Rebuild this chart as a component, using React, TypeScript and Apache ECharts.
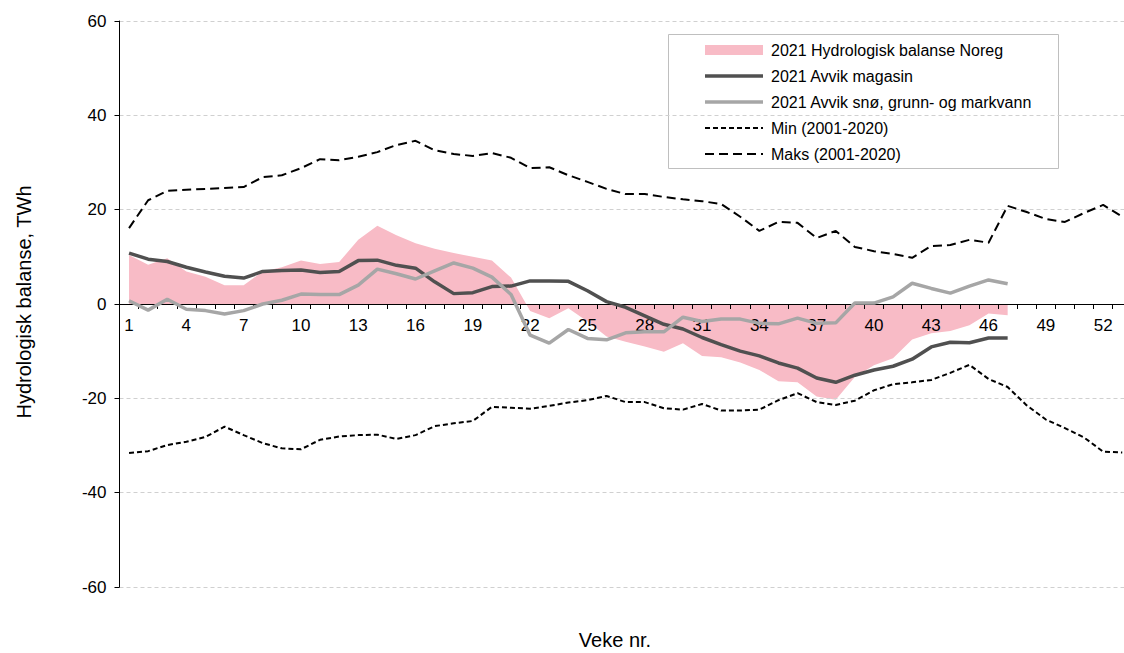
import React, { useEffect, useRef } from "react";
import * as echarts from "echarts";

const weeks = [
  "1", "2", "3", "4", "5", "6", "7", "8", "9", "10",
  "11", "12", "13", "14", "15", "16", "17", "18", "19", "20",
  "21", "22", "23", "24", "25", "26", "27", "28", "29", "30",
  "31", "32", "33", "34", "35", "36", "37", "38", "39", "40",
  "41", "42", "43", "44", "45", "46", "47", "48", "49", "50",
  "51", "52", "53",
];

const yTicks = [-60, -40, -20, 0, 20, 40, 60];

const hydroBalance = [
  10.4, 8.3, 9.7, 6.9, 5.8, 4.0, 4.0, 6.9, 7.8, 9.2,
  8.5, 8.9, 13.6, 16.6, 14.6, 12.9, 11.7, 10.8, 10.0, 9.2,
  5.6, -1.5, -3.0, -0.9, -3.7, -6.9, -8.0, -9.0, -10.1, -8.3,
  -11.0, -11.3, -12.4, -14.0, -16.4, -16.6, -19.6, -20.3, -15.5, -13.0,
  -11.5, -7.5, -6.2, -5.7, -4.5, -2.0, -2.4,
];

const avvikMagasin = [
  10.8, 9.5, 9.0, 7.8, 6.8, 5.9, 5.5, 6.9, 7.1, 7.2,
  6.7, 6.9, 9.2, 9.3, 8.2, 7.6, 4.7, 2.2, 2.4, 3.7,
  3.8, 4.9, 4.9, 4.8, 2.8, 0.5, -0.7, -2.5, -4.3, -5.3,
  -7.1, -8.6, -10.0, -11.0, -12.5, -13.6, -15.7, -16.6, -15.1, -14.0,
  -13.2, -11.7, -9.1, -8.1, -8.2, -7.2, -7.2,
];

const avvikSno = [
  0.7, -1.3, 1.0, -1.1, -1.4, -2.1, -1.4, 0.0, 0.8, 2.1,
  2.0, 2.0, 4.0, 7.4, 6.4, 5.3, 7.0, 8.7, 7.6, 5.7,
  2.0, -6.6, -8.3, -5.4, -7.3, -7.6, -6.1, -5.9, -5.9, -2.8,
  -3.7, -3.2, -3.2, -4.1, -4.2, -3.0, -4.1, -4.0, 0.2, 0.2,
  1.5, 4.4, 3.3, 2.3, 3.8, 5.1, 4.3,
];

const minValues = [
  -31.6, -31.2, -29.9, -29.2, -28.2, -26.0, -27.8, -29.5, -30.6, -30.8,
  -28.8, -28.1, -27.8, -27.7, -28.6, -27.8, -25.9, -25.3, -24.8, -21.8,
  -22.0, -22.2, -21.6, -20.9, -20.4, -19.5, -20.8, -20.8, -22.1, -22.4,
  -21.2, -22.6, -22.6, -22.4, -20.4, -18.9, -20.8, -21.4, -20.5, -18.3,
  -17.0, -16.6, -16.1, -14.6, -12.9, -15.9, -17.6, -21.5, -24.5, -26.3,
  -28.3, -31.3, -31.5,
];

const maxValues = [
  16.1, 22.0, 24.0, 24.2, 24.4, 24.6, 24.8, 26.9, 27.3, 28.8,
  30.7, 30.5, 31.2, 32.2, 33.7, 34.6, 32.6, 31.8, 31.4, 32.0,
  31.0, 28.8, 29.0, 27.3, 25.9, 24.4, 23.3, 23.3, 22.7, 22.2,
  21.8, 21.2, 18.5, 15.5, 17.4, 17.2, 14.0, 15.5, 12.1, 11.2,
  10.6, 9.8, 12.3, 12.5, 13.6, 13.0, 20.8, 19.5, 18.0, 17.4,
  19.3, 21.0, 18.5,
];

const seriesNames = [
  "2021 Hydrologisk balanse Noreg",
  "2021 Avvik magasin",
  "2021 Avvik snø, grunn- og markvann",
  "Min (2001-2020)",
  "Maks (2001-2020)",
];

const yTitle = "Hydrologisk balanse, TWh";
const xTitle = "Veke nr.";

const FONT = "'Liberation Sans', Arial, sans-serif";
const PINK = "#F8BBC6";
const DARK = "#505050";
const LIGHT = "#A6A6A6";
const MIN_DASH = [5, 3];
const MAX_DASH = [9, 5];

export default function App() {
  const ref = useRef<HTMLDivElement>(null);

  useEffect(() => {
    if (!ref.current) return;
    const chart = echarts.init(ref.current, null, { renderer: "svg" });

    const legendX = 668.5;
    const legendY = 34.5;
    const rowY = [50, 76, 102, 128, 154];
    const iconX1 = 705;
    const iconX2 = 763;
    const textX = 771;

    const legendItems: any[] = [
      {
        type: "rect",
        shape: { x: legendX, y: legendY, width: 390, height: 134 },
        style: { fill: "#ffffff", stroke: "#bfbfbf", lineWidth: 1 },
      },
      {
        type: "rect",
        shape: { x: iconX1, y: rowY[0] - 5, width: iconX2 - iconX1, height: 10 },
        style: { fill: PINK },
      },
      {
        type: "line",
        shape: { x1: iconX1, y1: rowY[1], x2: iconX2, y2: rowY[1] },
        style: { stroke: DARK, lineWidth: 3.5 },
      },
      {
        type: "line",
        shape: { x1: iconX1, y1: rowY[2], x2: iconX2, y2: rowY[2] },
        style: { stroke: LIGHT, lineWidth: 3.5 },
      },
      {
        type: "line",
        shape: { x1: iconX1, y1: rowY[3], x2: iconX2, y2: rowY[3] },
        style: { stroke: "#000", lineWidth: 2, lineDash: MIN_DASH },
      },
      {
        type: "line",
        shape: { x1: iconX1, y1: rowY[4], x2: iconX2, y2: rowY[4] },
        style: { stroke: "#000", lineWidth: 2, lineDash: MAX_DASH },
      },
      ...seriesNames.map((name, i) => ({
        type: "text",
        x: textX,
        y: rowY[i],
        style: {
          text: name,
          fontSize: 16,
          fontFamily: FONT,
          fill: "#000",
          align: "left",
          verticalAlign: "middle",
        },
      })),
    ];

    chart.setOption({
      animation: false,
      backgroundColor: "#ffffff",
      grid: {
        left: 119.5,
        top: 21,
        width: 1012.3,
        height: 566,
        containLabel: false,
        outerBoundsMode: "none",
      },
      xAxis: {
        type: "category",
        data: weeks,
        boundaryGap: true,
        position: "bottom",
        offset: -283,
        z: 3,
        axisLine: { onZero: false, lineStyle: { color: "#000", width: 1 } },
        axisTick: { show: true, interval: 0, length: 5, lineStyle: { color: "#000", width: 1 } },
        axisLabel: { interval: 2, fontSize: 17, color: "#000", margin: 13, fontFamily: FONT },
        splitLine: { show: false },
      },
      yAxis: {
        type: "value",
        min: yTicks[0],
        max: yTicks[yTicks.length - 1],
        interval: 20,
        z: 3,
        axisLine: { show: true, lineStyle: { color: "#000", width: 1 } },
        axisTick: { show: true, length: 5, lineStyle: { color: "#000" } },
        axisLabel: { fontSize: 17, color: "#000", margin: 13, fontFamily: FONT },
        splitLine: { show: true, lineStyle: { color: "#d0d0d0", type: [4, 3], width: 1 } },
      },
      series: [
        {
          name: seriesNames[0],
          type: "line",
          data: hydroBalance,
          symbol: "none",
          lineStyle: { width: 0 },
          areaStyle: { color: PINK, opacity: 1 },
          z: 1,
        },
        {
          name: seriesNames[1],
          type: "line",
          data: avvikMagasin,
          symbol: "none",
          lineStyle: { color: DARK, width: 3.5 },
          itemStyle: { color: DARK },
          z: 4,
        },
        {
          name: seriesNames[2],
          type: "line",
          data: avvikSno,
          symbol: "none",
          lineStyle: { color: LIGHT, width: 3.5 },
          itemStyle: { color: LIGHT },
          z: 5,
        },
        {
          name: seriesNames[3],
          type: "line",
          data: minValues,
          symbol: "none",
          lineStyle: { color: "#000", width: 2, type: MIN_DASH },
          itemStyle: { color: "#000" },
          z: 6,
        },
        {
          name: seriesNames[4],
          type: "line",
          data: maxValues,
          symbol: "none",
          lineStyle: { color: "#000", width: 2, type: MAX_DASH },
          itemStyle: { color: "#000" },
          z: 6,
        },
      ],
      graphic: [
        {
          type: "text",
          x: 24,
          y: 302,
          rotation: Math.PI / 2,
          style: {
            text: yTitle,
            fontSize: 20,
            fontFamily: FONT,
            fill: "#000",
            align: "center",
            verticalAlign: "middle",
          },
        },
        {
          type: "text",
          x: 615,
          y: 640,
          style: {
            text: xTitle,
            fontSize: 20,
            fontFamily: FONT,
            fill: "#000",
            align: "center",
            verticalAlign: "middle",
          },
        },
        { type: "group", z: 100, children: legendItems },
      ],
    });

    return () => chart.dispose();
  }, []);

  return (
    <div
      ref={ref}
      style={{ position: "fixed", left: 0, top: 0, width: 1124, height: 653, background: "#fff" }}
    />
  );
}
